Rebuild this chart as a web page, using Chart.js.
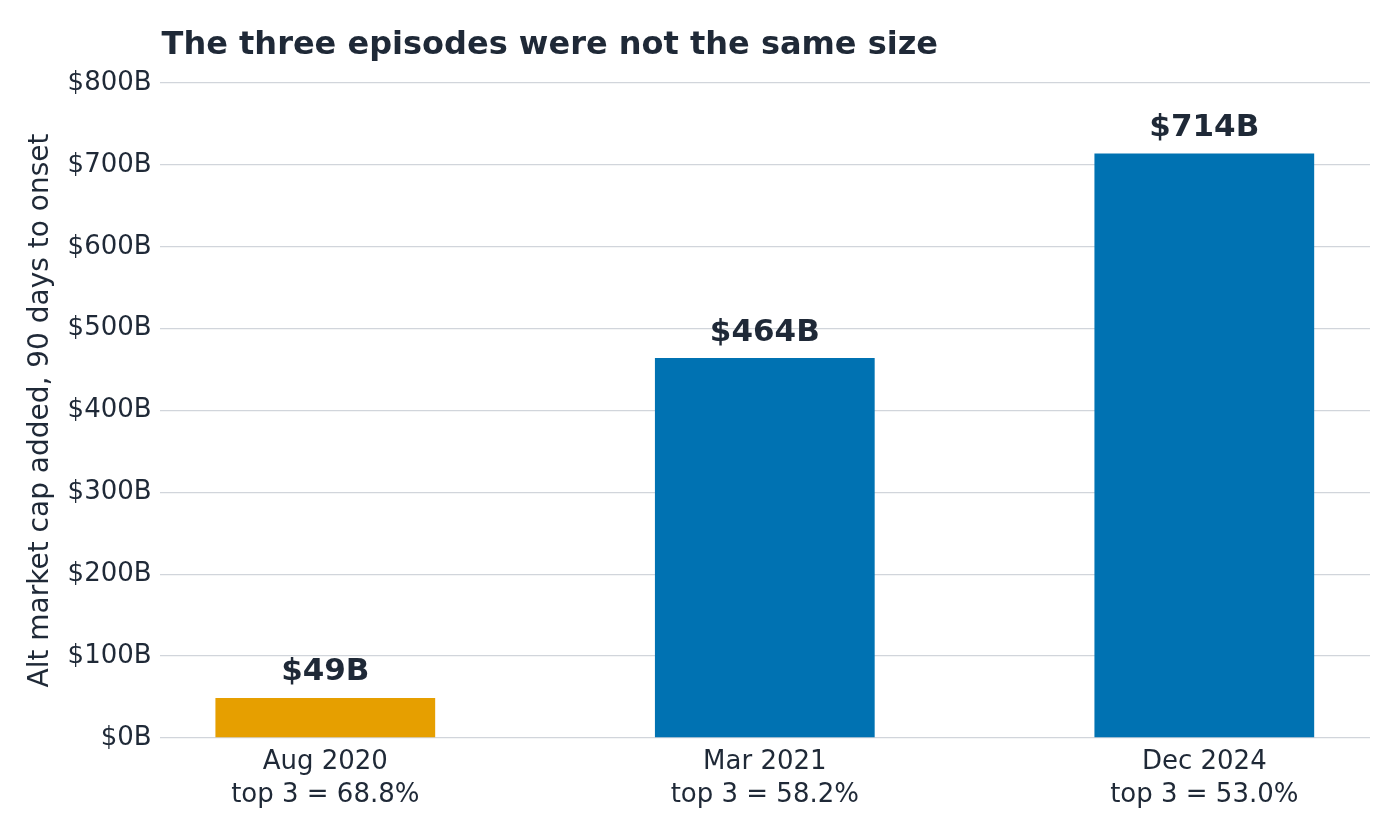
<!DOCTYPE html>
<html>
<head>
<meta charset="utf-8">
<script src="https://cdn.jsdelivr.net/npm/chart.js@4.4.1/dist/chart.umd.min.js"></script>
<style>
  html, body { margin: 0; padding: 0; background: #ffffff; }
  #wrap { width: 1400px; height: 840px; position: relative; }
</style>
</head>
<body>
<div id="wrap"><canvas id="chart"></canvas></div>
<script>
// Chart data
const episodes = ['Aug 2020', 'Mar 2021', 'Dec 2024'];
const top3Share = ['68.8%', '58.2%', '53.0%'];
const capAdded = [49, 464, 714];
const barColors = ['#E69F00', '#0072B2', '#0072B2'];

const textColor = '#1f2937';
const gridColor = '#d1d5db';
const fontFamily = '"DejaVu Sans", sans-serif';

// Title drawn at the left edge of the plot area
const titlePlugin = {
  id: 'leftTitle',
  afterDraw(chart) {
    const ctx = chart.ctx;
    ctx.save();
    ctx.font = 'bold 32px ' + fontFamily;
    ctx.fillStyle = textColor;
    ctx.textAlign = 'left';
    ctx.textBaseline = 'alphabetic';
    ctx.fillText('The three episodes were not the same size', chart.chartArea.left + 2, 54);
    ctx.restore();
  }
};

// Value labels above each bar
const valueLabels = {
  id: 'valueLabels',
  afterDatasetsDraw(chart) {
    const ctx = chart.ctx;
    const meta = chart.getDatasetMeta(0);
    ctx.save();
    ctx.font = 'bold 31px ' + fontFamily;
    ctx.fillStyle = textColor;
    ctx.textAlign = 'center';
    ctx.textBaseline = 'bottom';
    meta.data.forEach((bar, i) => {
      ctx.fillText('$' + capAdded[i] + 'B', bar.x, bar.y - 10);
    });
    ctx.restore();
  }
};

const ctx = document.getElementById('chart').getContext('2d');
new Chart(ctx, {
  type: 'bar',
  data: {
    datasets: [{
      data: capAdded.map((v, i) => ({ x: i, y: v })),
      backgroundColor: barColors,
      borderWidth: 0,
      barPercentage: 0.5,
      categoryPercentage: 1
    }]
  },
  options: {
    responsive: true,
    maintainAspectRatio: false,
    animation: false,
    layout: {
      padding: { top: 83, right: 30, left: 20, bottom: 29 }
    },
    scales: {
      x: {
        type: 'linear',
        offset: false,
        min: -0.377,
        max: 2.377,
        afterBuildTicks(axis) {
          axis.ticks = episodes.map((e, i) => ({ value: i }));
        },
        ticks: {
          color: textColor,
          font: { family: fontFamily, size: 26, lineHeight: 1.25 },
          padding: 0,
          maxRotation: 0,
          autoSkip: false,
          callback: function(value) {
            return [episodes[value], 'top 3 = ' + top3Share[value]];
          }
        },
        grid: { display: false },
        border: { display: false }
      },
      y: {
        min: 0,
        max: 800,
        ticks: {
          stepSize: 100,
          color: textColor,
          font: { family: fontFamily, size: 26 },
          padding: 8,
          callback: function(value) {
            return '$' + value + 'B';
          }
        },
        grid: {
          color: gridColor,
          lineWidth: 1.3,
          drawTicks: false
        },
        border: { display: false },
        title: {
          display: true,
          text: 'Alt market cap added, 90 days to onset',
          color: textColor,
          font: { family: fontFamily, size: 28 },
          padding: { bottom: 2 }
        }
      }
    },
    plugins: {
      legend: { display: false },
      tooltip: { enabled: false }
    }
  },
  plugins: [titlePlugin, valueLabels]
});
</script>
</body>
</html>
